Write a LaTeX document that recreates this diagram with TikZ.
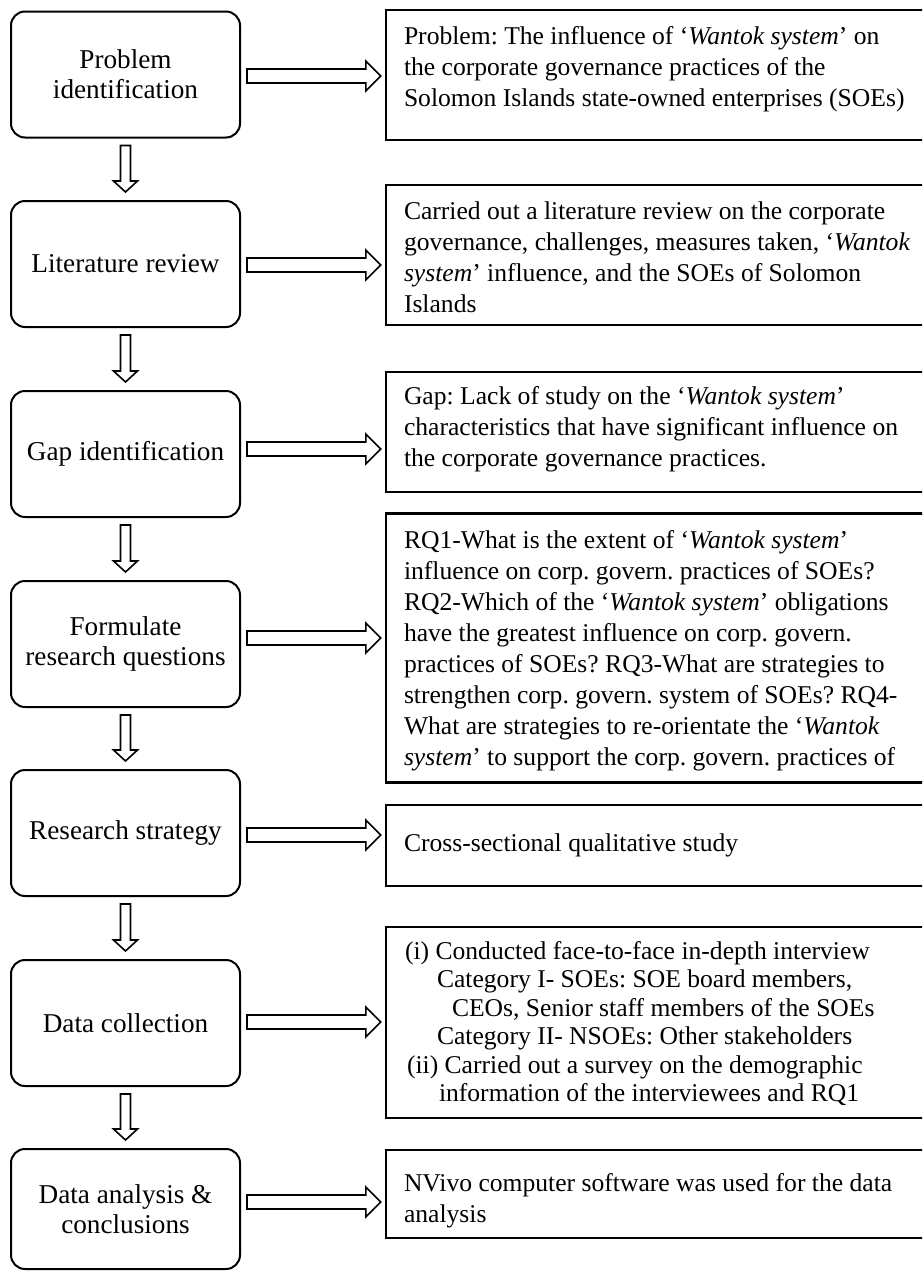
\documentclass[tikz,border=0pt]{standalone}
\usepackage{fontspec}
\setmainfont{Liberation Serif}
\usetikzlibrary{calc}

\tikzset{
  stage/.style={draw, line width=2pt, rounded corners=14pt, minimum width=229pt,
    minimum height=126pt, inner sep=0pt, align=center,
    font=\fontsize{27.2}{30}\selectfont\frenchspacing},
  outcome/.style={draw, line width=2.4pt, inner sep=0pt, minimum width=554pt},
  outtext/.style={anchor=north west, inner sep=0pt, align=left,
    font=\fontsize{25.6}{31}\selectfont\frenchspacing},
  hollow/.style={draw, line width=1.6pt, fill=white, line join=miter},
}

% hollow block arrow from a stage box (#1) to its outcome box (#2), shifted by #3
\newcommand{\sidearrow}[3]{%
  \draw[hollow] let \p1=($(#1.east)+(6,#3)$), \p2=(#2.west) in
    (\x1,\y1-7pt) -- (\x2-19pt,\y1-7pt) -- (\x2-19pt,\y1-15pt) -- (\x2-4pt,\y1)
    -- (\x2-19pt,\y1+15pt) -- (\x2-19pt,\y1+7pt) -- (\x1,\y1+7pt) -- cycle;}

% hollow block arrow pointing down from stage #1 to stage #2
\newcommand{\stepdown}[2]{%
  \draw[hollow] let \p1=(#1.south), \p2=(#2.north) in
    (\x1-5pt,\y1-7pt) -- (\x1-5pt,\y2+19pt) -- (\x1-12pt,\y2+19pt) -- (\x1,\y2+8pt)
    -- (\x1+12pt,\y2+19pt) -- (\x1+5pt,\y2+19pt) -- (\x1+5pt,\y1-7pt) -- cycle;}

\begin{document}
\begin{tikzpicture}[x=1pt,y=-1pt]
\useasboundingbox (0,0) rectangle (922,1272);
\clip (0,0) rectangle (922,1272);
\fill[white] (0,0) rectangle (922,1272);

% stages of the research process
\node[stage] (s1) at (125.5,74.5) {Problem\\identification};
\node[stage] (s2) at (125.5,264) {Literature review};
\node[stage] (s3) at (125.5,454) {Gap identification};
\node[stage] (s4) at (125.5,644) {Formulate\\research questions};
\node[stage] (s5) at (125.5,833) {Research strategy};
\node[stage] (s6) at (125.5,1023) {Data collection};
\node[stage, minimum height=120pt] (s7) at (125.5,1209) {Data analysis \&\\conclusions};

% outcome boxes (running past the right edge)
\node[outcome, minimum height=130pt] (r1) at (663,75) {};
\node[outcome, minimum height=140pt] (r2) at (663,255) {};
\node[outcome, minimum height=120pt] (r3) at (663,432) {};
\node[outcome, minimum height=269pt] (r4) at (663,648) {};
\node[outcome, minimum height=81pt] (r5) at (663,845.5) {};
\node[outcome, minimum height=191pt] (r6) at (663,1022.5) {};
\node[outcome, minimum height=88pt] (r7) at (663,1194) {};

% outcome texts
\node[outtext] (t1) at ($(r1.north west)+(19,13.3)$) {\strut Problem: The influence of ‘\textit{Wantok system}’ on\\
the corporate governance practices of the\\
Solomon Islands state-owned enterprises (SOEs)};
\node[outtext] (t2) at ($(r2.north west)+(19,13.3)$) {\strut Carried out a literature review on the corporate\\
governance, challenges, measures taken, ‘\textit{Wantok}\\
\textit{system}’ influence, and the SOEs of Solomon\\
Islands};
\node[outtext] (t3) at ($(r3.north west)+(19,11.3)$) {\strut Gap: Lack of study on the ‘\textit{Wantok system}’\\
characteristics that have significant influence on\\
the corporate governance practices.};
\node[outtext] (t4) at ($(r4.north west)+(19,14.3)$) {\strut RQ1-What is the extent of ‘\textit{Wantok system}’\\
influence on corp. govern. practices of SOEs?\\
RQ2-Which of the ‘\textit{Wantok system}’ obligations\\
have the greatest influence on corp. govern.\\
practices of SOEs? RQ3-What are strategies to\\
strengthen corp. govern. system of SOEs? RQ4-\\
What are strategies to re-orientate the ‘\textit{Wantok}\\
\textit{system}’ to support the corp. govern. practices of};
\node[outtext] (t5) at ($(r5.north west)+(19,25.3)$) {\strut Cross-sectional qualitative study};
\node[outtext, font=\fontsize{25.6}{28.5}\selectfont\frenchspacing] (t6) at ($(r6.north west)+(20,13.3)$) {\strut (i) Conducted face-to-face in-depth interview\\
\hspace*{32pt}Category I- SOEs: SOE board members,\\
\hspace*{47pt}CEOs, Senior staff members of the SOEs\\
\hspace*{32pt}Category II- NSOEs: Other stakeholders\\
\hspace*{2pt}(ii) Carried out a survey on the demographic\\
\hspace*{34pt}information of the interviewees and RQ1};
\node[outtext] (t7) at ($(r7.north west)+(19,20.3)$) {\strut NVivo computer software was used for the data\\
analysis};

% flow between stages
\stepdown{s1}{s2}
\stepdown{s2}{s3}
\stepdown{s3}{s4}
\stepdown{s4}{s5}
\stepdown{s5}{s6}
\stepdown{s6}{s7}

% stage to outcome
\sidearrow{s1}{r1}{1.5}
\sidearrow{s2}{r2}{1}
\sidearrow{s3}{r3}{-5}
\sidearrow{s4}{r4}{-6}
\sidearrow{s5}{r5}{2}
\sidearrow{s6}{r6}{-1}
\sidearrow{s7}{r7}{-7}
\end{tikzpicture}
\end{document}
